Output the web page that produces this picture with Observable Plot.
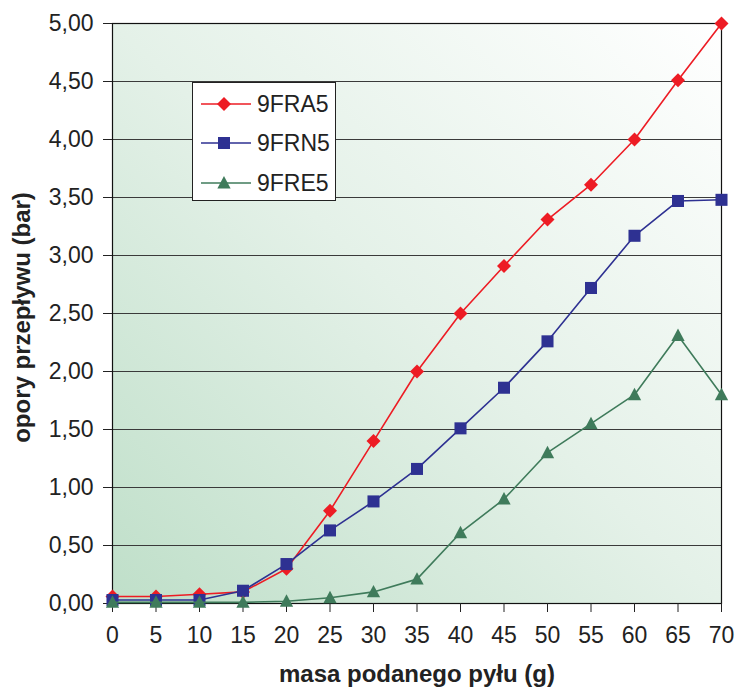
<!DOCTYPE html>
<html><head><meta charset="utf-8">
<script src="https://cdn.jsdelivr.net/npm/d3@7"></script>
<script src="https://cdn.jsdelivr.net/npm/@observablehq/plot@0.6"></script>
<style>
body{margin:0;background:#fff;font-family:"Liberation Sans",Arial,sans-serif;}
#wrap{position:relative;width:737px;height:695px;}
#legend{position:absolute;left:192px;top:82px;width:144px;height:119px;background:#fff;border:1px solid #222;box-sizing:border-box;}
.row{position:absolute;left:7px;height:24px;display:flex;align-items:center;}
.row span{font-size:23px;color:#222;margin-left:5px;line-height:24px;}
</style></head>
<body><div id="wrap"><div id="chart"></div><div id="legend"></div></div>
<script>
const masa = [0,5,10,15,20,25,30,35,40,45,50,55,60,65,70];
const fra5 = [0.06,0.06,0.08,0.10,0.30,0.80,1.40,2.00,2.50,2.91,3.31,3.61,4.00,4.51,5.00];
const frn5 = [0.03,0.03,0.03,0.11,0.34,0.63,0.88,1.16,1.51,1.86,2.26,2.72,3.17,3.47,3.48];
const fre5 = [0.01,0.01,0.01,0.01,0.02,0.05,0.10,0.21,0.61,0.90,1.30,1.55,1.80,2.31,1.80];
const seriesNames = ["9FRA5","9FRN5","9FRE5"];
const seriesColors = ["#ed1c24","#2e3192","#3f7b5b"];
const yTicks = [0,0.5,1,1.5,2,2.5,3,3.5,4,4.5,5];
const xTicks = masa;
const xTitle = "masa podanego pyłu (g)";
const yTitle = "opory przepływu (bar)";

const diamond = {draw(c, size){const r=Math.sqrt(size/Math.PI); c.moveTo(0,-r); c.lineTo(r,0); c.lineTo(0,r); c.lineTo(-r,0); c.closePath();}};
const square = {draw(c, size){const r=Math.sqrt(size/Math.PI)*0.86; c.rect(-r,-r,2*r,2*r);}};
const triangle = {draw(c, size){const r=Math.sqrt(size/Math.PI); c.moveTo(0,-r); c.lineTo(r*0.95,r*0.78); c.lineTo(-r*0.95,r*0.78); c.closePath();}};
const symbols = [diamond, square, triangle];

const allValues = [fra5, frn5, fre5];
const rows = allValues.map((vals, k) => masa.map((x, i) => ({x, y: vals[i], s: seriesNames[k]})));

const marks = [
  Plot.frame({fill: "url(#bgGrad)", stroke: null}),
  Plot.gridY(yTicks, {stroke: "#3a3a3a", strokeOpacity: 1, strokeWidth: 1}),
  Plot.frame({stroke: "#111", strokeWidth: 1.2}),
  Plot.axisY(yTicks, {tickFormat: d => d.toFixed(2).replace(".", ","), tickSize: 9, tickPadding: 10, fontSize: 23, label: null, stroke: "#222", fill: "#222"}),
  Plot.axisX(xTicks, {tickSize: 9, tickPadding: 14, fontSize: 23, label: null, stroke: "#222", fill: "#222"}),
  Plot.text([xTitle], {frameAnchor: "bottom", dy: 78, fontSize: 24, fontWeight: "bold", fill: "#222"}),
  Plot.text([yTitle], {frameAnchor: "left", textAnchor: "middle", dx: -90, dy: 4, rotate: -90, fontSize: 24, fontWeight: "bold", fill: "#222"})
];
rows.forEach((r, k) => {
  marks.push(Plot.line(r, {x: "x", y: "y", stroke: seriesColors[k], strokeWidth: 1.6}));
  marks.push(Plot.dot(r, {x: "x", y: "y", fill: seriesColors[k], stroke: null, symbol: symbols[k], r: 7}));
});

const chart = Plot.plot({
  width: 737, height: 695,
  marginLeft: 112, marginRight: 16, marginTop: 23, marginBottom: 92,
  style: {fontFamily: "'Liberation Sans', Arial, sans-serif", background: "transparent", overflow: "visible"},
  x: {domain: [0, 70]},
  y: {domain: [0, 5]},
  marks
});
const defs = d3.select(chart).insert("defs", ":first-child");
const g = defs.append("linearGradient").attr("id", "bgGrad").attr("x1", 0).attr("y1", 1).attr("x2", 1).attr("y2", 0);
g.append("stop").attr("offset", "0%").attr("stop-color", "#bfdfc9");
g.append("stop").attr("offset", "50%").attr("stop-color", "#e4f1e8");
g.append("stop").attr("offset", "100%").attr("stop-color", "#ffffff");
document.getElementById("chart").appendChild(chart);

// legend
const legend = d3.select("#legend");
const tops = [9, 48, 88];
seriesNames.forEach((name, k) => {
  const row = legend.append("div").attr("class", "row").style("top", tops[k] + "px");
  const svg = row.append("svg").attr("width", 52).attr("height", 24);
  svg.append("line").attr("x1", 1).attr("x2", 51).attr("y1", 12).attr("y2", 12).attr("stroke", seriesColors[k]).attr("stroke-width", 1.6);
  const p = d3.path(); symbols[k].draw(p, Math.PI * 49);
  svg.append("path").attr("d", p.toString()).attr("transform", "translate(24,12)").attr("fill", seriesColors[k]);
  row.append("span").text(name);
});
</script></body></html>
